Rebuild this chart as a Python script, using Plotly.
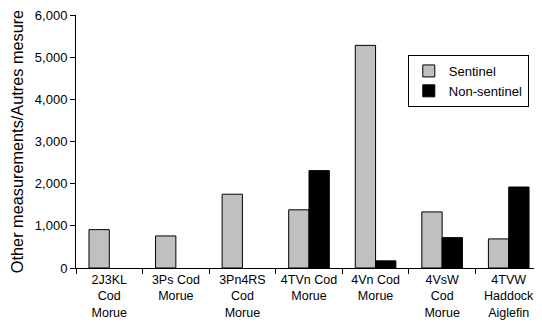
import plotly.graph_objects as go

categories = ["2J3KL<br>Cod<br>Morue", "3Ps Cod<br>Morue", "3Pn4RS<br>Cod<br>Morue",
              "4TVn Cod<br>Morue", "4Vn Cod<br>Morue", "4VsW<br>Cod<br>Morue",
              "4TVW<br>Haddock<br>Aiglefin"]
sentinel = [910, 760, 1750, 1380, 5280, 1330, 690]
non_sentinel = [None, None, None, 2310, 170, 720, 1920]
y_ticks = [0, 1000, 2000, 3000, 4000, 5000, 6000]

FONT = "Liberation Sans, Arial, sans-serif"

fig = go.Figure()
fig.add_trace(go.Bar(name="Sentinel", x=categories, y=sentinel,
                     marker=dict(color="#C0C0C0", line=dict(color="black", width=1))))
fig.add_trace(go.Bar(name="Non-sentinel", x=categories, y=non_sentinel,
                     marker=dict(color="black", line=dict(color="black", width=1))))

fig.update_layout(
    width=534, height=322,
    margin=dict(l=68, r=0, t=7, b=62, autoexpand=False),
    paper_bgcolor="white", plot_bgcolor="white",
    barmode="group", bargap=0.39, bargroupgap=0,
    font=dict(family=FONT, size=13, color="black"),
    showlegend=True,
    legend=dict(x=0.712, y=0.842, xanchor="left", yanchor="top",
                bgcolor="white", bordercolor="black", borderwidth=1,
                font=dict(size=13), itemwidth=30, tracegroupgap=2),
)
fig.update_xaxes(showline=True, linecolor="black", linewidth=1,
                 ticks="outside", ticklen=5, tickcolor="black", tickson="boundaries",
                 showgrid=False, tickfont=dict(size=12.5), automargin=False)
fig.update_yaxes(range=[0, 6000], tickvals=y_ticks, tickformat=",",
                 showline=True, linecolor="black", linewidth=1,
                 ticks="outside", ticklen=5, tickcolor="black",
                 ticklabeloverflow="allow",
                 showgrid=False, zeroline=False, tickfont=dict(size=13), automargin=False,
                 title=dict(text="Other measurements/Autres mesure", font=dict(size=16.3), standoff=15))

fig.write_html("out.html")
